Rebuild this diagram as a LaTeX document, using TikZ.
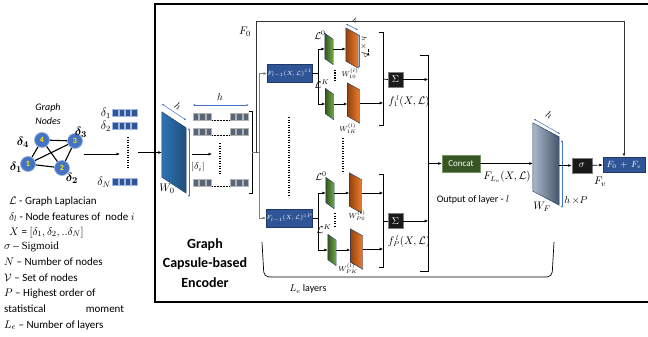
\documentclass[tikz,border=0pt]{standalone}
\usepackage{fontspec}
\setmainfont{Carlito}
\newfontfamily\cambria{Liberation Serif}
\usepackage{amsmath,bm}
\usetikzlibrary{positioning,arrows.meta,calc}
\definecolor{gcnode}{HTML}{4472C4}
\definecolor{gcblue}{HTML}{2F5597}
\definecolor{gcnavy}{HTML}{203864}
\definecolor{gcslate}{HTML}{44546A}
\definecolor{gcgray}{HTML}{7F7F7F}
\definecolor{gcdgreen}{HTML}{375623}
\definecolor{gcgreen}{HTML}{548235}
\definecolor{gclgreen}{HTML}{70AD47}
\definecolor{gcorange}{HTML}{C55A11}
\definecolor{gclorange}{HTML}{ED7D31}
\definecolor{gcwfl}{HTML}{ADB9CA}
\definecolor{gcw0l}{HTML}{2E75B6}
\definecolor{gcw0d}{HTML}{1F4E79}
% slanted weight slab drawn on the frame of an empty node
\newcommand{\drawslab}[3]{%
  \draw[#3] (#1.north west) -- ($(#1.north east)+(0,#2)$) -- (#1.south east)
    -- ($(#1.south west)-(0,#2)$) -- cycle;}

\begin{document}
\begin{tikzpicture}[x=1pt,y=-1pt,
    font=\fontsize{10}{12}\selectfont,
    gnode/.style={circle,fill=gcnode,draw=gcnode!55!white,line width=0.8pt,
                  minimum size=15pt,inner sep=0pt,text=yellow,
                  font=\fontsize{8}{9}\selectfont\bfseries},
    gedge/.style={line width=1.1pt},
    glab/.style={inner sep=0pt,font=\fontsize{13}{14}\selectfont},
    dlab/.style={inner sep=0pt,anchor=east,font=\fontsize{12}{14}\selectfont},
    fsq/.style={fill=gcblue,draw=gcnode!50!white,line width=0.4pt},
    isq/.style={fill=gcslate!90!white,draw=gray!60,line width=0.4pt},
    fbox/.style={draw=gcnavy,fill=gcblue,minimum width=43pt,minimum height=18pt,
                 inner sep=0pt,text=white,font=\fontsize{6}{7}\selectfont},
    opbox/.style={fill=black!90,draw=gray,inner sep=0pt,text=white},
    gslab/.style={inner sep=0pt,minimum width=8pt,minimum height=31pt},
    oslab/.style={inner sep=0pt,minimum width=12pt,minimum height=40pt},
    brk/.style={inner sep=0pt,minimum width=4pt},
    lbl/.style={inner sep=0pt,font=\fontsize{10}{12}\selectfont},
    wlbl/.style={inner sep=0pt,font=\fontsize{7.5}{9}\selectfont},
    tlbl/.style={inner sep=0pt,font=\fontsize{7}{8}\selectfont},
    legend/.style={anchor=base west,inner sep=0pt,font=\fontsize{11}{13}\selectfont},
    dim/.style={gcnode,line width=0.5pt,{Latex[length=2pt,width=2pt]}-{Latex[length=2pt,width=2pt]}},
    arr/.style={-{Latex[length=3.5pt,width=3pt]},line width=0.7pt},
    wire/.style={line width=0.7pt},
    dotline/.style={line width=1.3pt,dash pattern=on 1.2pt off 1.3pt}]

  \useasboundingbox (0,0) rectangle (648,337);
  \draw[line width=1.4pt] (660,4) -- (155,4) -- (155,302) -- (660,302);

  % input graph
  \node[gnode] (n4) at (42,140) {4};
  \node[gnode] (n3) at (75,141) {3};
  \node[gnode] (n1) at (28,164) {1};
  \node[gnode] (n2) at (62,168) {2};
  \foreach \a/\b in {n1/n2,n1/n3,n1/n4,n2/n3,n2/n4,n3/n4}
    \draw[gedge] (\a) -- (\b);
  \node[glab] (l4) at (23,142) {$\bm{\delta_4}$};
  \node[glab] (l3) at (81,132) {$\bm{\delta_3}$};
  \node[glab] (l1) at (16,167) {$\bm{\delta_1}$};
  \node[glab] (l2) at (72,178) {$\bm{\delta_2}$};
  \node[inner sep=0pt,align=center,font=\fontsize{10}{14}\selectfont\itshape] (gtl) at (48,114) {Graph\\Nodes};

  \coordinate (ga) at (84,154);
  \coordinate (gb) at (120,154);
  \draw[arr] (ga) -- (gb);

  % node features
  \foreach \y/\lab in {113/1,126/2,182/N} {
    \node[dlab] (d\lab) at (111,\y) {$\delta_{\lab}$};
    \foreach \i in {0,...,3}
      \draw[fsq] (112.5+\i*6.3,\y-3.5) rectangle ++(5.5,7);
  }
  \draw[dotline] (128,137) -- (128,169);

  % W0 projection
  \node[inner sep=0pt,minimum width=24pt,minimum height=81pt] (w0) at (174,152.5) {};
  \drawslab{w0}{16}{gcnavy,line width=0.4pt,left color=gcw0l,right color=gcw0d}
  \coordinate (fa) at (138,152.5);
  \draw[arr] (fa) -- (w0.west);
  \draw[dim] (162,104) -- (186,120);
  \node[lbl,rotate=-33] (hw0) at (178,106) {$h$};
  \draw[dim] (189,128) -- (189,197);
  \node[lbl] (dw0) at (198,167) {$|\delta_i|$};
  \node[lbl,font=\fontsize{11}{12}\selectfont] (w0l) at (167,189) {$W_0$};
  \coordinate (wa) at (192,154);
  \coordinate (wb) at (212,154);
  \draw[arr] (wa) -- (wb);

  % projected features
  \foreach \y in {117,132,183} {
    \foreach \x in {193,199.5,206,230,236.5,243}
      \draw[isq] (\x,\y-3.5) rectangle ++(5.5,7);
    \draw[densely dotted,line width=0.5pt] (212,\y+3) -- (229,\y+3);
  }
  \draw[dotline] (220,143) -- (220,175);
  \draw[dim] (193,105) -- (248.5,105);
  \node[lbl] (hf) at (220,97) {$h$};
  \node[brk,minimum width=3pt,minimum height=81pt] (fbk) at (250.5,152.5) {};
  \draw[wire] (fbk.north west) -- (fbk.north east) -- (fbk.south east) -- (fbk.south west);
  \coordinate (jn0) at (256,152.5);
  \coordinate (jn) at (259,152.5);
  \coordinate (ftop) at (256,21);
  \draw[wire,gcgray] (fbk.east) -- (jn);

  % capsule layer, order 1 and order P
  \node[fbox] (fb1) at (289.5,73.5) {$F_{l-1}(X,\mathcal{L})^{\circ 1}$};
  \node[fbox] (fbP) at (289.5,218) {$F_{l-1}(X,\mathcal{L})^{\circ P}$};
  \draw[arr,gcgray] (jn) |- (fb1.west);
  \draw[arr,gcgray] (jn) |- (fbP.west);
  \draw[dotline] (289,117) -- (289,197);

  \node[gslab] (g10) at (329,49) {};
  \node[gslab] (g1K) at (329.5,104) {};
  \node[gslab] (gP0) at (330,193) {};
  \node[gslab] (gPK) at (332,250) {};
  \node[oslab] (o10) at (352,48) {};
  \node[oslab] (o1K) at (353.5,103) {};
  \node[oslab] (oP0) at (355.5,193) {};
  \node[oslab] (oPK) at (356.5,249) {};
  \foreach \s in {g10,g1K,gP0,gPK}
    {\drawslab{\s}{6}{gcnavy,line width=0.4pt,left color=gcdgreen,right color=gclgreen}}
  \foreach \s in {o10,o1K,oP0,oPK}
    {\drawslab{\s}{7}{gcnavy,line width=0.4pt,left color=gcorange!75!black,right color=gclorange}}

  \coordinate (sp1) at (318,73.5);
  \coordinate (spP) at (318,218);
  \draw[wire] (fb1) -- (sp1);
  \draw[arr] (sp1) |- (g10.west);
  \draw[arr] (sp1) |- (g1K.west);
  \draw[wire] (fbP) -- (spP);
  \draw[arr] (spP) |- (gP0.west);
  \draw[arr] (spP) |- (gPK.west);
  \foreach \g/\o in {g10/o10,g1K/o1K,gP0/oP0,gPK/oPK}
    \draw[arr] (\g.east) -- (\g.east -| \o.west);

  \node[tlbl,font=\fontsize{10}{12}\selectfont] (L10) at (320,35) {$\mathcal{L}^0$};
  \node[tlbl,font=\fontsize{10}{12}\selectfont] (L1K) at (322,84) {$\mathcal{L}^K$};
  \node[tlbl,font=\fontsize{10}{12}\selectfont] (LP0) at (321,176) {$\mathcal{L}^0$};
  \node[tlbl,font=\fontsize{10}{12}\selectfont] (LPK) at (324,229) {$\mathcal{L}^K$};
  \draw[dotline] (335,70) -- (335,82);
  \draw[dotline] (335,213) -- (335,227);
  \draw[dotline] (343,138) -- (343,173);
  \node[wlbl] (W10) at (350,74) {$W_{10}^{(l)}$};
  \node[wlbl] (W1K) at (348,129) {$W_{1K}^{(l)}$};
  \node[wlbl] (WP0) at (357,216) {$W_{P0}^{(l)}$};
  \node[wlbl] (WPK) at (348,269) {$W_{PK}^{(l)}$};
  \draw[dim] (346,24) -- (358,30);
  \node[tlbl,rotate=-30] (ho) at (355,21) {$h$};
  \draw[dim] (359,34) -- (359,68);
  \node[tlbl,rotate=-90] (hPo) at (364,47) {$h\times P$};

  \node[brk,minimum height=92pt] (b1) at (381,79) {};
  \node[brk,minimum height=92pt] (bP) at (381,221) {};
  \foreach \b in {b1,bP}
    \draw[wire] (\b.north west) -- (\b.north east) -- (\b.south east) -- (\b.south west);
  \draw[arr] ($(o10.east)+(10,4)$) -- ($(o10.east)+(10,4)$ -| b1.east);
  \draw[arr] (o1K.east) -- (o1K.east -| b1.east);
  \draw[arr] (oP0.east) -- (oP0.east -| bP.east);
  \draw[arr] (oPK.east) -- (oPK.east -| bP.east);

  \node[opbox,minimum size=15pt] (s1) at (395.5,79.5) {$\Sigma$};
  \node[opbox,minimum size=15pt] (sP) at (395.5,221) {$\Sigma$};
  \draw[wire] (b1.east) -- (s1.west);
  \draw[wire] (bP.east) -- (sP.west);
  \node[lbl,font=\fontsize{10.5}{12}\selectfont] (f1) at (409,101) {$f_1^{\,l}(X,\mathcal{L})$};
  \node[lbl,font=\fontsize{10.5}{12}\selectfont] (fP) at (409,241) {$f_P^{\,l}(X,\mathcal{L})$};

  \node[brk,minimum width=8pt,minimum height=216pt] (bb) at (424,163.5) {};
  \draw[wire] (bb.north west) -- (bb.north east) -- (bb.south east) -- (bb.south west);
  \draw[arr] (s1.east) -- (s1.east -| bb.east);
  \draw[arr] (sP.east) -- (sP.east -| bb.east);

  % readout
  \node[draw=gclgreen!50!gray,fill=gcdgreen,text=white,minimum width=38pt,
        minimum height=17pt,inner sep=0pt,font=\fontsize{9}{10}\selectfont] (cc) at (461,163.5) {Concat};
  \draw[arr] (bb.east) -- (cc.west);
  \node[lbl] (out) at (473,200) {Output of layer - $l$};
  \node[lbl,font=\fontsize{10.5}{12}\selectfont] (fle) at (507,177) {$F_{L_e}(X,\mathcal{L})$};

  \node[inner sep=0pt,minimum width=26pt,minimum height=82pt] (wf) at (546,164) {};
  \drawslab{wf}{14}{gcnavy,line width=0.4pt,left color=gcwfl,right color=gcslate}
  \draw[arr] (cc.east) -- (cc.east -| wf.west);
  \draw[dim] (534,119) -- (560,134);
  \node[lbl,rotate=-30] (hwf) at (549,115) {$h$};
  \draw[dim] (562,140) -- (562,208);
  \node[lbl] (hPf) at (576,200) {$h\,{\times}P$};
  \node[lbl,font=\fontsize{11}{12}\selectfont] (wfl) at (542,207) {$W_F$};

  \node[opbox,minimum width=20pt,minimum height=15pt] (sg) at (582,165.5) {$\sigma$};
  \draw[arr] (wf.east |- sg.west) -- (sg.west);
  \node[fbox,minimum width=42pt,minimum height=15pt,font=\fontsize{9}{10}\selectfont] (fsum) at (624,164.5) {$F_0\,+\,F_v$};
  \draw[arr] (sg) -- (fsum);
  \node[lbl,font=\fontsize{11}{12}\selectfont] (fvl) at (600,182) {$F_v$};
  \draw[arr,black!80] (jn0) -- (ftop) -| (fsum.north);
  \node[lbl,font=\fontsize{11}{12}\selectfont] (f0l) at (245,32) {$F_0$};

  % layer span
  \draw[wire,rounded corners=5pt] (262,242) -- (264,277) -- (552,277) -- (554,242);
  \node[lbl] (lel) at (308,289) {$L_e$ layers};

  \node[inner sep=0pt,align=center,font=\fontsize{14}{19.5}\selectfont\bfseries] (enc) at (205,263)
    {Graph\\Capsule-based\\Encoder};

  % legend
  \node[legend] (lg1) at (9,204) {$\mathcal{L}$ - Graph Laplacian};
  \node[legend] (lg2) at (9,220) {$\delta_l$ - Node features of~ node $i$};
  \node[legend] (lg3) at (9,235) {$X$ = $[\delta_1, \delta_2, ..\delta_N]$};
  \node[legend] (lg4) at (4,249) {$\sigma$ {\cambria – Sigmoid}};
  \node[legend] (lg5) at (4,265) {$N$ – Number of nodes};
  \node[legend] (lg6) at (4,281) {$\mathcal{V}$ – Set of nodes};
  \node[legend] (lg7) at (4,296) {$P$ – Highest order of};
  \node[legend] (lg8) at (4,312) {statistical\hspace{40pt}moment};
  \node[legend] (lg9) at (4,328) {$L_e$ – Number of layers};
\end{tikzpicture}
\end{document}
